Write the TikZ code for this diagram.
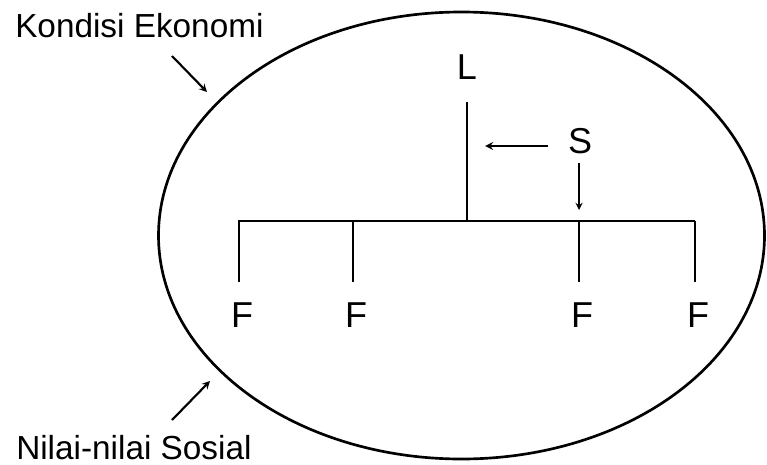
\documentclass[tikz,border=0pt]{standalone}
\usepackage{fontspec}
\setmainfont{Liberation Sans}
\usetikzlibrary{positioning}

\tikzset{
  lbl/.style={inner sep=0pt, font=\fontsize{25}{29}\selectfont},
  ltr/.style={inner sep=0pt, font=\fontsize{27}{32}\selectfont},
  ln/.style={line width=1.7pt},
}

\begin{document}
\begin{tikzpicture}[x=0.75pt, y=-0.75pt, >=stealth]
            \useasboundingbox (0,0) rectangle (767,464);
            % lingkungan
            \draw[line width=2pt] (461.5,235.5) ellipse (303 and 223.5);
            
            \node[lbl, anchor=base west] (eko) at (15,37) {Kondisi Ekonomi};
            \node[lbl, anchor=base west] (sos) at (16,459) {Nilai-nilai Sosial};
            \coordinate (ekoA) at (172,56);
            \coordinate (ekoB) at (207,92);
            \coordinate (sosA) at (172,420);
            \coordinate (sosB) at (210,381);
            \draw[->, line width=1.6pt] (ekoA) -- (ekoB);
            \draw[->, line width=1.6pt] (sosA) -- (sosB);
            
            % pemimpin, staf, bawahan
            \node[ltr] (L) at (467,67) {L};
            \node[ltr] (S) at (580,141) {S};
            \coordinate (topL) at (467,102);
            \coordinate (jL) at (467,221);
            \coordinate (bl) at (238,221);
            \coordinate (br) at (695,221);
            \draw[ln] (bl) -- (br);
            \draw[ln] (topL) -- (jL);
            \draw[->, line width=1.4pt] (579,163) -- (579,210);
            \coordinate (hA) at (548,146);
            \coordinate (hB) at (485,146);
            \draw[->, line width=1.7pt] (hA) -- (hB);
            
            \foreach \x [count=\i] in {239,353,579,695} {
              \node[ltr] (F\i) at (\x+3,315) {F};
              \draw[ln] (\x,221) -- (\x,282);
            }
        \end{tikzpicture}
\end{document}
